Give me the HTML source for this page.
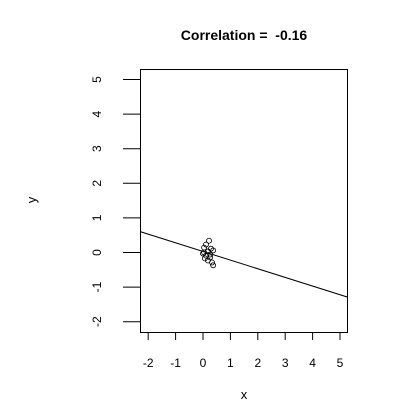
<!DOCTYPE html>
<html><head><meta charset="utf-8"><style>body{margin:0;background:#fff}svg{display:block;font-family:"Liberation Sans",sans-serif}</style></head>
<body>
<svg id="c" width="420" height="420"></svg>
<script>
const xs=[0.22,0.11,0.04,0.29,0.37,0.18,0.00,0.11,0.26,0.07,0.18,0.33,0.37,0.04,0.26];
const ys=[0.34,0.23,0.14,0.11,0.06,0.03,-0.03,-0.09,-0.06,-0.17,-0.23,-0.29,-0.37,0.00,-0.14];
const lineIntercept=0.03, lineSlope=-0.25;
const xTicks=[-2,-1,0,1,2,3,4,5], yTicks=[-2,-1,0,1,2,3,4,5];
const title="Correlation =  -0.16";
const X=v=>203+v*27.4, Y=v=>252.5-v*34.6;
const s=document.getElementById('c'),NS='http://www.w3.org/2000/svg';
function el(t,a,p){const e=document.createElementNS(NS,t);for(const k in a)e.setAttribute(k,a[k]);(p||s).appendChild(e);return e;}
const box=el('rect',{x:140.5,y:69.5,width:207,height:263,fill:'none',stroke:'#000'});


const cp=el('clipPath',{id:'cl'});el('rect',{x:140,y:69,width:207,height:263},cp);
const xl=lineIntercept+lineSlope*(-3), xr=lineIntercept+lineSlope*6;
const ln=el('line',{x1:X(-3),y1:Y(xl),x2:X(6),y2:Y(xr),stroke:'#000','clip-path':'url(#cl)'});


xs.forEach((x,i)=>{const c=el('circle',{cx:X(x),cy:Y(ys[i]),r:2.5,fill:'none',stroke:'#000','stroke-width':0.8});

});
el('line',{x1:X(-2),y1:332.5,x2:X(5),y2:332.5,stroke:'#000'});
xTicks.forEach(t=>{el('line',{x1:X(t),y1:332,x2:X(t),y2:340,stroke:'#000'});
const tx=el('text',{x:X(t),y:367,'font-size':12,'text-anchor':'middle'});tx.textContent=t;

});
el('line',{x1:140.5,y1:Y(-2),x2:140.5,y2:Y(5),stroke:'#000'});
yTicks.forEach(t=>{el('line',{x1:123,y1:Y(t),x2:140,y2:Y(t),stroke:'#000'});
const tx=el('text',{x:0,y:0,'font-size':12,'text-anchor':'middle',transform:`translate(101,${Y(t)}) rotate(-90)`});tx.textContent=t;

});
const tt=el('text',{x:244,y:40,'font-size':14,'font-weight':'bold','text-anchor':'middle',style:'white-space:pre'});tt.textContent=title;


const xa=el('text',{x:244,y:399,'font-size':13,'text-anchor':'middle'});xa.textContent='x';


const ya=el('text',{x:0,y:0,'font-size':13,'text-anchor':'middle',transform:'translate(36,200) rotate(-90)'});ya.textContent='y';


</script>
</body></html>
